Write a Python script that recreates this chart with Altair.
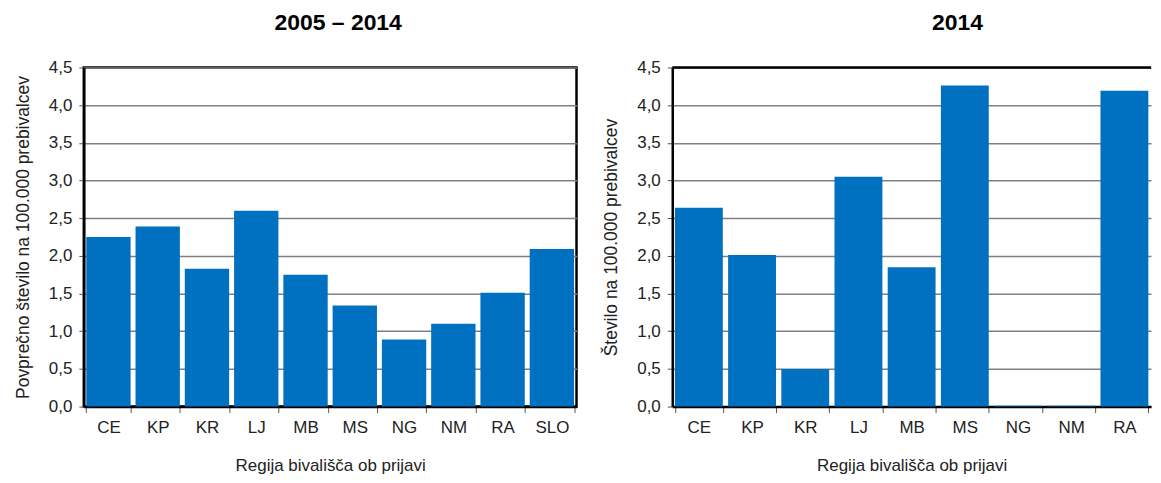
import altair as alt
import pandas as pd

regions_a = ["CE", "KP", "KR", "LJ", "MB", "MS", "NG", "NM", "RA", "SLO"]
values_a = [2.25, 2.39, 1.83, 2.60, 1.75, 1.34, 0.89, 1.10, 1.51, 2.09]

regions_b = ["CE", "KP", "KR", "LJ", "MB", "MS", "NG", "NM", "RA"]
values_b = [2.64, 2.01, 0.50, 3.05, 1.85, 4.26, 0.01, 0.01, 4.19]

title_a = "2005 – 2014"
title_b = "2014"
ytitle_a = "Povprečno število na 100.000 prebivalcev"
ytitle_b = "Število na 100.000 prebivalcev"
xtitle = "Regija bivališča ob prijavi"
ytick_values = [0, 0.5, 1, 1.5, 2, 2.5, 3, 3.5, 4, 4.5]
top_value = [4.5]

df_a = pd.DataFrame({"reg": regions_a, "val": values_a})
df_b = pd.DataFrame({"reg": regions_b, "val": values_b})

FONT = "Liberation Sans"
BAR = "#0070c0"
LABEL_EXPR = "replace(format(datum.value, '.1f'), '.', ',')"
FS = 17


def y_axis(title):
    return alt.Axis(
        title=title, values=ytick_values,
        labelExpr=LABEL_EXPR, grid=True, gridColor="#808080", gridWidth=1.5,
        domain=True, domainColor="black", domainWidth=2.5,
        tickColor="#555", tickSize=5, labelPadding=7, titlePadding=16,
        labelFont=FONT, labelFontSize=FS, labelColor="#222",
        titleFont=FONT, titleFontSize=17.5, titleFontWeight="normal", titleColor="#222",
    )


def x_axis():
    return alt.Axis(
        title=xtitle, labelAngle=0, tickBand="extent", grid=False,
        domain=True, domainColor="black", domainWidth=2.5,
        tickColor="#555", tickSize=6, labelPadding=7, titlePadding=22,
        labelFont=FONT, labelFontSize=FS, labelColor="#222",
        titleFont=FONT, titleFontSize=FS, titleFontWeight="normal", titleColor="#222",
    )


yscale = alt.Scale(domain=[0, 4.5], nice=False)

left = alt.Chart(df_a).mark_bar(color=BAR).encode(
    x=alt.X("reg:N", sort=regions_a, axis=x_axis(),
            scale=alt.Scale(paddingInner=0.1, paddingOuter=0.05)),
    y=alt.Y("val:Q", scale=yscale, axis=y_axis(ytitle_a)),
).properties(
    width=494, height=340,
    title=alt.TitleParams(title_a, font=FONT, fontSize=23, fontWeight="bold",
                          color="black", anchor="middle", frame="group",
                          offset=24, dx=8),
)

bars_b = alt.Chart(df_b).mark_bar(color=BAR).encode(
    x=alt.X("reg:N", sort=regions_b, axis=x_axis(),
            scale=alt.Scale(paddingInner=0.1, paddingOuter=0.05)),
    y=alt.Y("val:Q", scale=yscale, axis=y_axis(ytitle_b)),
)
top_b = alt.Chart(pd.DataFrame({"t": top_value})).mark_rule(
    color="black", strokeWidth=2.5
).encode(y=alt.Y("t:Q", scale=yscale, axis=y_axis(ytitle_b)))

right = alt.layer(bars_b, top_b).properties(
    width=480, height=340,
    view=alt.ViewBackground(stroke=None),
    title=alt.TitleParams(title_b, font=FONT, fontSize=23, fontWeight="bold",
                          color="black", anchor="middle", frame="group",
                          offset=24, dx=46),
)

chart = alt.hconcat(left, right, spacing=24).properties(
    padding={"left": 5, "top": 1, "right": 0, "bottom": 5}
).configure_view(
    stroke="black", strokeWidth=2.5
)

chart.save("out.html", embed_options={"renderer": "svg", "actions": False})
